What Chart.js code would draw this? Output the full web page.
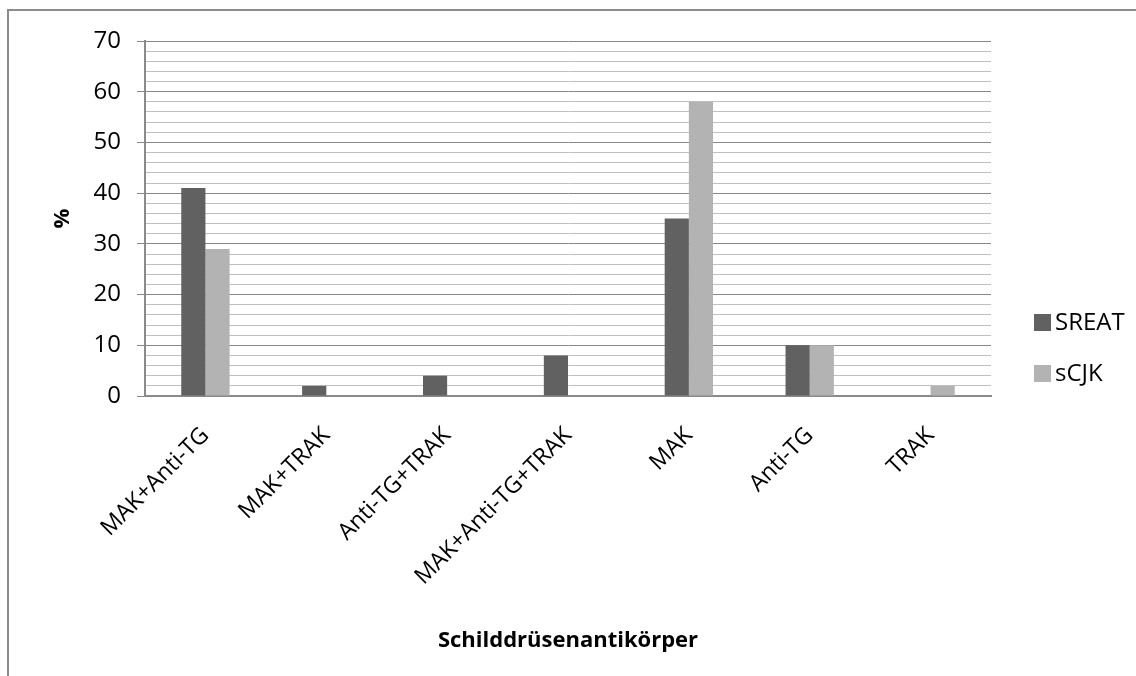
<!DOCTYPE html>
<html lang="de">
<head>
  <meta charset="UTF-8">
  <title>Schilddrüsenantikörper</title>
  <script src="https://cdn.jsdelivr.net/npm/chart.js"></script>
  <style>
    html, body { margin: 0; padding: 0; background: #fff; overflow: hidden; }
    .frame {
      position: absolute; left: 0; top: 0; width: 1136px; height: 676px;
    }
    /* outer chart border, only top and left edges visible */
    .border {
      position: absolute; left: 7px; top: 9px; width: 1200px; height: 800px;
      border-top: 2px solid #8c8c8c; border-left: 2px solid #8c8c8c;
    }
    canvas { position: absolute; left: 0; top: 0; }
  </style>
</head>
<body>
<div class="frame">
  <div class="border"></div>
  <canvas id="chart" width="1136" height="676"></canvas>
</div>
<script>
  const categories = ['MAK+Anti-TG', 'MAK+TRAK', 'Anti-TG+TRAK', 'MAK+Anti-TG+TRAK', 'MAK', 'Anti-TG', 'TRAK'];
  const sreat = [41, 2, 4, 8, 35, 10, 0];
  const scjk = [29, 0, 0, 0, 58, 10, 2];
  const seriesNames = ['SREAT', 'sCJK'];
  const seriesColors = ['#616161', '#b3b3b3'];

  const FONT = "'Open Sans', 'Liberation Sans', sans-serif";

  // legend drawn by hand on the right side
  const sideLegend = {
    id: 'sideLegend',
    afterDraw(chart) {
      const ctx = chart.ctx;
      ctx.save();
      ctx.font = '24px ' + FONT;
      ctx.textBaseline = 'middle';
      const rows = [322, 373];
      chart.data.datasets.forEach((ds, i) => {
        const y = rows[i];
        ctx.fillStyle = ds.backgroundColor;
        ctx.fillRect(1034, y - 8, 17, 17);
        ctx.fillStyle = '#000';
        ctx.fillText(ds.label, 1055, y + 1);
      });
      ctx.restore();
    }
  };

  new Chart(document.getElementById('chart'), {
    type: 'bar',
    data: {
      labels: categories,
      datasets: [
        { label: seriesNames[0], data: sreat, backgroundColor: seriesColors[0] },
        { label: seriesNames[1], data: scjk, backgroundColor: seriesColors[1] }
      ]
    },
    options: {
      responsive: false,
      animation: false,
      layout: { padding: { left: 0, top: 41, right: 145, bottom: 0 } },
      datasets: { bar: { categoryPercentage: 0.4, barPercentage: 1.0 } },
      plugins: {
        legend: { display: false },
        tooltip: { enabled: false }
      },
      scales: {
        x: {
          grid: { display: false, drawTicks: false },
          border: { color: '#8a8a8a', width: 2 },
          ticks: {
            color: '#000',
            font: { family: FONT, size: 23 },
            minRotation: 45,
            maxRotation: 45,
            padding: 26
          },
          title: {
            display: true,
            text: 'Schilddrüsenantikörper',
            color: '#000',
            font: { family: FONT, size: 22, weight: 'bold' },
            padding: { top: 0, bottom: 22 }
          },
          afterFit(scale) { scale.height = 280; }
        },
        y: {
          min: 0,
          max: 70,
          grid: {
            color: c => (c.tick && c.tick.value % 10 === 0) ? '#888888' : '#c0c0c0',
            tickColor: c => (c.tick && c.tick.value % 10 === 0) ? '#888888' : 'rgba(0,0,0,0)',
            tickLength: 8,
            lineWidth: 1
          },
          border: { color: '#8a8a8a', width: 2 },
          ticks: {
            stepSize: 2,
            autoSkip: false,
            color: '#000',
            font: { family: FONT, size: 24 },
            padding: 16,
            callback: v => (v % 10 === 0 ? v : '')
          },
          title: {
            display: true,
            text: '%',
            color: '#000',
            font: { family: FONT, size: 22, weight: 'bold' },
            padding: { top: 50, bottom: 0 }
          },
          afterFit(scale) { scale.width = 145; }
        }
      }
    },
    plugins: [sideLegend]
  });
</script>
</body>
</html>
